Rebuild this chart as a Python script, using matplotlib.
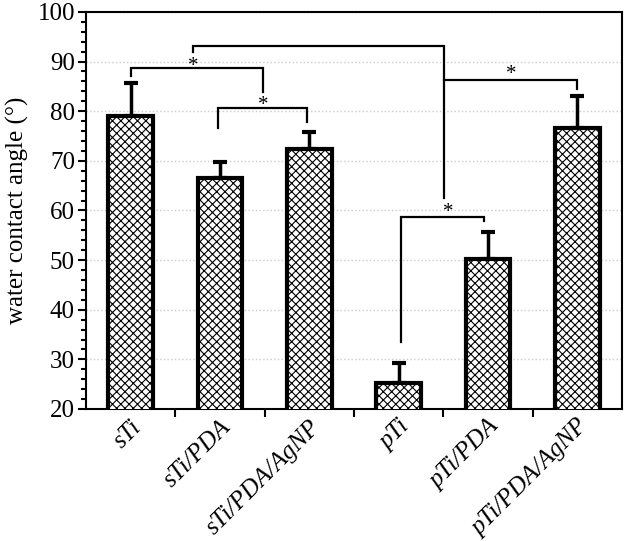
import matplotlib
matplotlib.use("Agg")
import matplotlib.pyplot as plt
import matplotlib.transforms as mtransforms
import numpy as np

categories = ["sTi", "sTi/PDA", "sTi/PDA/AgNP", "pTi", "pTi/PDA", "pTi/PDA/AgNP"]
means = [79.0, 66.5, 72.4, 25.2, 50.2, 76.6]
errors = [6.7, 3.3, 3.4, 4.0, 5.4, 6.5]

# significance brackets: (x_left, x_right, y_top, y_left_end, y_right_end)
brackets = [
    (0.0, 1.48, 88.7, 87.1, 83.9),
    (0.98, 1.97, 80.6, 76.6, 77.8),
    (0.70, 3.51, 93.2, 92.0, 62.5),
    (3.51, 5.0, 86.3, 86.3, 84.5),
    (3.03, 3.95, 58.7, 33.5, 57.9),
]
# star positions (x, y)
stars = [(0.70, 90.1), (1.48, 82.3), (4.26, 88.5), (3.56, 60.7)]

plt.rcParams['font.family'] = 'serif'
plt.rcParams['font.serif'] = ['Liberation Serif', 'DejaVu Serif']
plt.rcParams['hatch.color'] = '#8a8a8a'
plt.rcParams['hatch.linewidth'] = 0.8

fig = plt.figure(figsize=(6.26, 5.41), dpi=100)
ax = fig.add_axes([0.1374, 0.244, 0.8562, 0.734])

x = np.arange(len(categories))
ax.bar(x, means, width=0.5, bottom=0, color='white', edgecolor='black',
       linewidth=3, hatch='xxxx', zorder=3)
ax.errorbar(x, means, yerr=[np.zeros(len(errors)), errors], fmt='none',
            ecolor='black', elinewidth=2.5, capsize=5, capthick=3, zorder=2)

for (xl, xr, yt, yl, yr) in brackets:
    ax.plot([xl, xl, xr, xr], [yl, yt, yt, yr], color='black', lw=1.6,
            solid_joinstyle='miter', zorder=4)
star_tr = ax.transData + mtransforms.ScaledTranslation(0, -5.5 / 100, fig.dpi_scale_trans)
for (sx, sy) in stars:
    ax.text(sx, sy, '*', ha='center', va='center', fontsize=15, zorder=5,
            transform=star_tr)

ax.set_xlim(-0.5, 5.5)
ax.set_ylim(20, 100)
ax.set_yticks(np.arange(20, 101, 10))
ax.set_yticks(np.arange(20, 101, 2), minor=True)
ax.set_xticks(np.arange(0.5, 5, 1))
ax.set_xticks(x, minor=True)
ax.set_xticklabels([])
ax.set_xticklabels(categories, minor=True, rotation=45, ha='right',
                   va='top', rotation_mode='anchor', style='italic',
                   fontsize=18)
ax.tick_params(axis='x', which='minor', length=0, pad=5)
ax.tick_params(axis='x', which='major', length=6, width=1.5, direction='out')
ax.tick_params(axis='y', which='major', length=6, width=1.5, direction='out',
               labelsize=18, pad=2)
ax.tick_params(axis='y', which='minor', length=3.5, width=1.5, direction='out')
ax.yaxis.grid(True, which='major', color='#cccccc', linestyle=':', lw=1, zorder=0)
ax.set_axisbelow(True)
for s in ax.spines.values():
    s.set_linewidth(1.5)
ax.set_ylabel('water contact angle (°)', fontsize=18, labelpad=6)

fig.savefig('out.png', dpi=100)
